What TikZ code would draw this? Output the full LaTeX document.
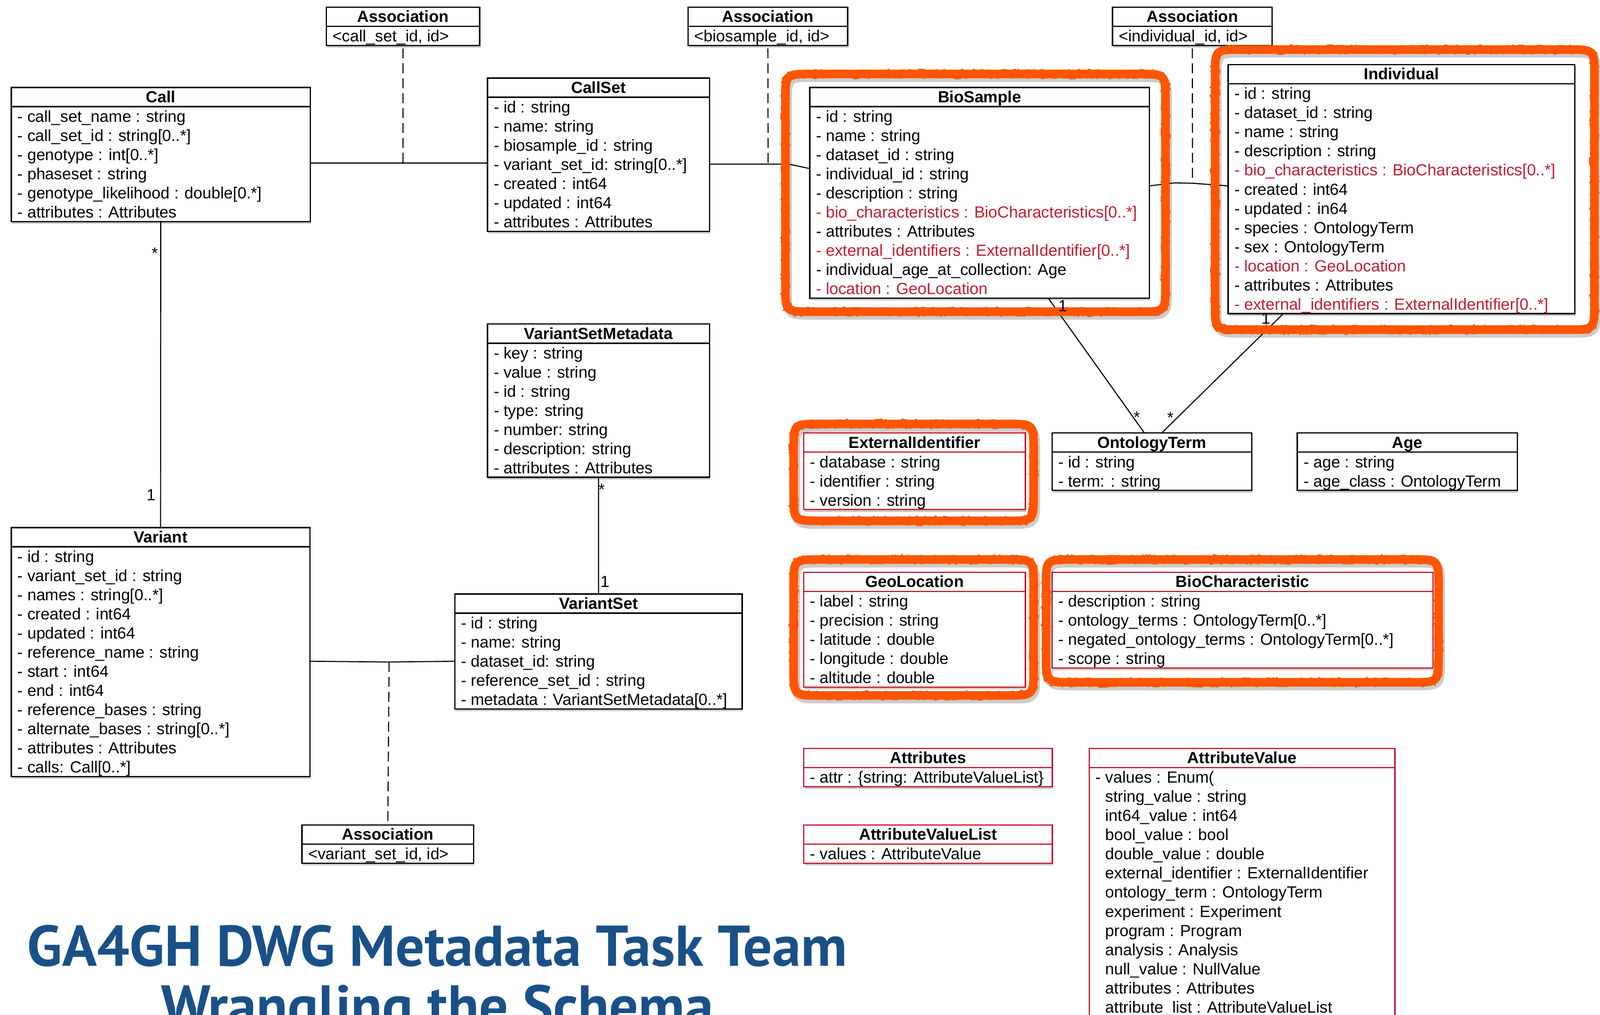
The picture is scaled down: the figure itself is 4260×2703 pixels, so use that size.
\documentclass[tikz,border=0pt]{standalone}
\usepackage{fontspec}
\setmainfont{Liberation Sans}
\newfontfamily\titlefont{PT Sans}
\usetikzlibrary{shadows,decorations.pathmorphing,calc}
\definecolor{redtxt}{RGB}{196,30,46}
\definecolor{redbox}{RGB}{200,20,44}
\definecolor{hilite}{RGB}{255,85,0}
\definecolor{titleblue}{RGB}{26,80,136}
\tikzset{
 umlbox/.style={draw, line width=1pt, fill=white, inner sep=0pt, outer sep=0pt, anchor=north west,
   drop shadow={shadow xshift=0.02cm, shadow yshift=-0.06cm, opacity=0.3, fill=black!70}},
 rowtext/.style={anchor=base west, inner sep=0pt, font=\fontsize{12.2}{14}\selectfont},
 headtext/.style={anchor=base, inner sep=0pt, font=\bfseries\fontsize{12.2}{14}\selectfont},
 mult/.style={inner sep=0pt, font=\fontsize{12.2}{14}\selectfont},
 link/.style={line width=0.8pt},
 assoc/.style={line width=0.8pt, dash pattern=on 7.5pt off 3.8pt},
 hl/.style={draw=hilite, line width=6.5pt, line join=round},
 hlrough/.style={draw=hilite, line width=3pt, line join=round, decorate, decoration={random steps, segment length=1.6pt, amplitude=2.3pt}},
 hlspeck/.style={draw=hilite, line width=1.2pt, line join=round, decorate, decoration={random steps, segment length=1.2pt, amplitude=3.6pt}},
 hlshadow/.style={draw=black, opacity=0.2, line width=7pt, line join=round},
 bigtitle/.style={anchor=base, inner sep=0pt, text=titleblue, font=\titlefont\bfseries\fontsize{43.5}{50}\selectfont},
}
% name, x-left, y-top, x-right, rows, colour, title, row list
\newcommand\umlclass[8]{%
  \pgfmathsetmacro\umlW{(#4-#2)*0.01}%
  \pgfmathsetmacro\umlH{(51+51*#5)*0.01}%
  \node[umlbox, draw=#6, minimum width=\umlW cm, minimum height=\umlH cm] (#1) at (#2,#3) {};
  \draw[line width=1pt, draw=#6] (#2,#3+51) -- (#4,#3+51);
  \node[headtext] (#1-title) at ({(#2+#4)/2},#3+40) {#7};
  \foreach \t [count=\i] in {#8} {\node[rowtext] (#1-r\i) at (#2+16,#3+51+51*\i-10) {\t};}
}
% hand-drawn highlight path: x1, y1, x2, y2
\newcommand\hlpath[4]{(#1+70,#2) -- (#3-70,#2) .. controls (#3,#2) .. (#3,#2+70) -- (#3,#4-70) .. controls (#3,#4) .. (#3-70,#4) -- (#1+70,#4) .. controls (#1,#4) .. (#1,#4-70) -- (#1,#2+70) .. controls (#1,#2) .. (#1+70,#2) -- cycle}
\newcommand\hlbox[4]{%
  \draw[hlshadow, shift={(5,9)}] \hlpath{#1}{#2}{#3}{#4};
  \draw[hl] \hlpath{#1}{#2}{#3}{#4};
  \draw[hlrough] \hlpath{#1}{#2}{#3}{#4};
  \draw[hlspeck] \hlpath{#1}{#2}{#3}{#4};
}
\newcommand\rd[1]{\textcolor{redtxt}{#1}}
\newcommand\ind{\hphantom{- }}
\begin{document}
\begin{tikzpicture}[x=0.01cm, y=-0.01cm]
\useasboundingbox (0,0) rectangle (4260,2703);
\fill[white] (0,0) rectangle (4260,2703);

% classes
\umlclass{call}{30}{233}{826}{6}{black}{Call}{{- call\_set\_name : string},{- call\_set\_id : string[0..*]},{- genotype : int[0..*]},{- phaseset : string},{- genotype\_likelihood : double[0.*]},{- attributes : Attributes}}
\umlclass{callset}{1298}{208}{1889}{7}{black}{CallSet}{{- id : string},{- name: string},{- biosample\_id : string},{- variant\_set\_id: string[0..*]},{- created : int64},{- updated : int64},{- attributes : Attributes}}
\umlclass{biosample}{2156}{233}{3060}{10}{black}{BioSample}{{- id : string},{- name : string},{- dataset\_id : string},{- individual\_id : string},{- description : string},{\rd{- bio\_characteristics : BioCharacteristics[0..*]}},{- attributes : Attributes},{\rd{- external\_identifiers : ExternalIdentifier[0..*]}},{- individual\_age\_at\_collection: Age},{\rd{- location : GeoLocation}}}
\umlclass{individual}{3270}{172}{4193}{12}{black}{Individual}{{- id : string},{- dataset\_id : string},{- name : string},{- description : string},{\rd{- bio\_characteristics : BioCharacteristics[0..*]}},{- created : int64},{- updated : in64},{- species : OntologyTerm},{- sex : OntologyTerm},{\rd{- location : GeoLocation}},{- attributes : Attributes},{\rd{- external\_identifiers : ExternalIdentifier[0..*]}}}
\umlclass{vsm}{1298}{863}{1889}{7}{black}{VariantSetMetadata}{{- key : string},{- value : string},{- id : string},{- type: string},{- number: string},{- description: string},{- attributes : Attributes}}
\umlclass{variantset}{1211}{1582}{1976}{5}{black}{VariantSet}{{- id : string},{- name: string},{- dataset\_id: string},{- reference\_set\_id : string},{- metadata : VariantSetMetadata[0..*]}}
\umlclass{variant}{30}{1405}{825}{12}{black}{Variant}{{- id : string},{- variant\_set\_id : string},{- names : string[0..*]},{- created : int64},{- updated : int64},{- reference\_name : string},{- start : int64},{- end : int64},{- reference\_bases : string},{- alternate\_bases : string[0..*]},{- attributes : Attributes},{- calls: Call[0..*]}}
\umlclass{ontology}{2801}{1153}{3333}{2}{black}{OntologyTerm}{{- id : string},{- term: : string}}
\umlclass{age}{3454}{1153}{4040}{2}{black}{Age}{{- age : string},{- age\_class : OntologyTerm}}
\umlclass{extid}{2140}{1153}{2730}{3}{redbox}{ExternalIdentifier}{{- database : string},{- identifier : string},{- version : string}}
\umlclass{geoloc}{2140}{1524}{2730}{5}{redbox}{GeoLocation}{{- label : string},{- precision : string},{- latitude : double},{- longitude : double},{- altitude : double}}
\umlclass{biochar}{2801}{1524}{3815}{4}{redbox}{BioCharacteristic}{{- description : string},{- ontology\_terms : OntologyTerm[0..*]},{- negated\_ontology\_terms : OntologyTerm[0..*]},{- scope : string}}
\umlclass{attributes}{2140}{1993}{2802}{1}{redbox}{Attributes}{{- attr : \{string: AttributeValueList\}}}
\umlclass{avlist}{2140}{2197}{2802}{1}{redbox}{AttributeValueList}{{- values : AttributeValue}}
\umlclass{attrvalue}{2900}{1993}{3714}{14}{redbox}{AttributeValue}{{- values : Enum(},{\ind string\_value : string},{\ind int64\_value : int64},{\ind bool\_value : bool},{\ind double\_value : double},{\ind external\_identifier : ExternalIdentifier},{\ind ontology\_term : OntologyTerm},{\ind experiment : Experiment},{\ind program : Program},{\ind analysis : Analysis},{\ind null\_value : NullValue},{\ind attributes : Attributes},{\ind attribute\_list : AttributeValueList}}
\umlclass{assoc1}{869}{19}{1277}{1}{black}{Association}{{<call\_set\_id, id>}}
\umlclass{assoc2}{1832}{19}{2257}{1}{black}{Association}{{<biosample\_id, id>}}
\umlclass{assoc3}{2962}{19}{3387}{1}{black}{Association}{{<individual\_id, id>}}
\umlclass{assoc4}{804}{2197}{1261}{1}{black}{Association}{{<variant\_set\_id, id>}}

% connectors
\coordinate (j1) at (1073,434);
\draw[link] (call.east |- j1) -- (j1) -- (callset.west |- j1);
\draw[assoc, shorten <=0.08cm] (assoc1.south) -- (j1);

\coordinate (j2) at (2045,437);
\coordinate (k2) at (2100,437);
\coordinate (b2) at (2156,449);
\draw[link] (callset.east |- j2) -- (k2) -- (biosample.west |- b2);
\draw[assoc, shorten <=0.08cm] (assoc2.south) -- (j2);

\coordinate (b3) at (3060,495);
\coordinate (k3) at (3128,487);
\coordinate (j3) at (3175,488);
\coordinate (i3) at (3270,495);
\draw[link] (biosample.east |- b3) -- (k3) -- (j3) -- (individual.west |- i3);
\draw[assoc, shorten <=0.08cm] (assoc3.south) -- (j3);

\draw[link] ($(biosample.south west)+(635,0)$) -- ($(ontology.north west)+(246,0)$);
\draw[link] ($(individual.south west)+(147,0)$) -- ($(ontology.north west)+(292,0)$);

\draw[link] (call.south) -- (variant.north);
\draw[link] (vsm.south) -- (variantset.north);

\coordinate (j4) at (1036,1763);
\draw[link] ($(variant.north east)+(0,356)$) -- (j4) -- ($(variantset.north west)+(0,179)$);
\draw[assoc, shorten >=0.1cm] (j4) -- (assoc4.north);

% highlight outlines
\hlbox{2091}{197}{3103}{830}
\hlbox{3235}{132}{4245}{878}
\hlbox{2113}{1129}{2752}{1387}
\hlbox{2113}{1490}{2752}{1852}
\hlbox{2785}{1490}{3830}{1817}

% multiplicities
\node[mult] (m1) at (412,674) {*};
\node[mult] (m2) at (402,1318) {1};
\node[mult] (m3) at (1602,1303) {*};
\node[mult] (m4) at (1611,1549) {1};
\node[mult] (m5) at (2830,815) {1};
\node[mult] (m6) at (3371,848) {1};
\node[mult] (m7) at (3027,1111) {*};
\node[mult] (m8) at (3116,1112) {*};

% title
\node[bigtitle] (title1) at (1164,2572) {GA4GH DWG Metadata Task Team};
\node[bigtitle] (title2) at (1164,2732) {Wrangling the Schema};
\end{tikzpicture}
\end{document}
